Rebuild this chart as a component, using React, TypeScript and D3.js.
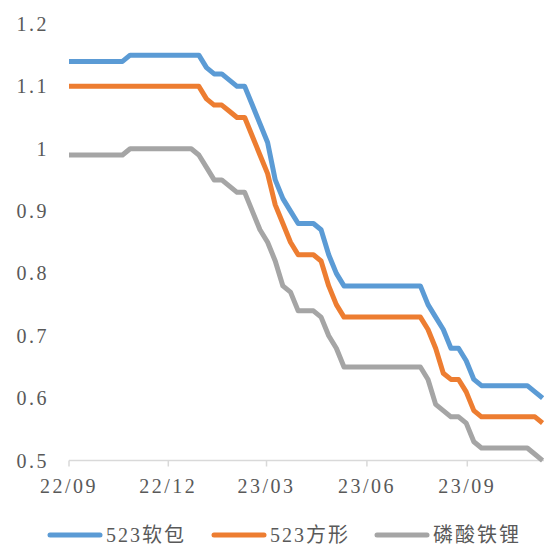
import React, { useEffect } from 'react';
import * as d3 from 'd3';

// weekly observations starting 2022-09-01
const startDate = new Date(2022, 8, 1);

const softPack523 = [
  1.14, 1.14, 1.14, 1.14, 1.14, 1.14, 1.14, 1.14, 1.15, 1.15,
  1.15, 1.15, 1.15, 1.15, 1.15, 1.15, 1.15, 1.15, 1.13, 1.12,
  1.12, 1.11, 1.10, 1.10, 1.07, 1.04, 1.01, 0.95, 0.92, 0.90,
  0.88, 0.88, 0.88, 0.87, 0.83, 0.80, 0.78, 0.78, 0.78, 0.78,
  0.78, 0.78, 0.78, 0.78, 0.78, 0.78, 0.78, 0.75, 0.73, 0.71,
  0.68, 0.68, 0.66, 0.63, 0.62, 0.62, 0.62, 0.62, 0.62, 0.62,
  0.62, 0.61, 0.60,
];

const prismatic523 = [
  1.10, 1.10, 1.10, 1.10, 1.10, 1.10, 1.10, 1.10, 1.10, 1.10,
  1.10, 1.10, 1.10, 1.10, 1.10, 1.10, 1.10, 1.10, 1.08, 1.07,
  1.07, 1.06, 1.05, 1.05, 1.02, 0.99, 0.96, 0.91, 0.88, 0.85,
  0.83, 0.83, 0.83, 0.82, 0.78, 0.75, 0.73, 0.73, 0.73, 0.73,
  0.73, 0.73, 0.73, 0.73, 0.73, 0.73, 0.73, 0.71, 0.68, 0.64,
  0.63, 0.63, 0.61, 0.58, 0.57, 0.57, 0.57, 0.57, 0.57, 0.57,
  0.57, 0.57, 0.56,
];

const lfp = [
  0.99, 0.99, 0.99, 0.99, 0.99, 0.99, 0.99, 0.99, 1.00, 1.00,
  1.00, 1.00, 1.00, 1.00, 1.00, 1.00, 1.00, 0.99, 0.97, 0.95,
  0.95, 0.94, 0.93, 0.93, 0.90, 0.87, 0.85, 0.82, 0.78, 0.77,
  0.74, 0.74, 0.74, 0.73, 0.70, 0.68, 0.65, 0.65, 0.65, 0.65,
  0.65, 0.65, 0.65, 0.65, 0.65, 0.65, 0.65, 0.63, 0.59, 0.58,
  0.57, 0.57, 0.56, 0.53, 0.52, 0.52, 0.52, 0.52, 0.52, 0.52,
  0.52, 0.51, 0.50,
];

const seriesNames = ['523软包', '523方形', '磷酸铁锂'];
const seriesColors = ['#5B9BD5', '#ED7D31', '#A5A5A5'];
const yTicks = [0.5, 0.6, 0.7, 0.8, 0.9, 1, 1.1, 1.2];
const xTickDates = [
  new Date(2022, 8, 1),
  new Date(2022, 11, 1),
  new Date(2023, 2, 1),
  new Date(2023, 5, 1),
  new Date(2023, 8, 1),
];

const W = 544;
const H = 548;
const FONT = '"Liberation Serif", "Noto Sans CJK SC", serif';

const App: React.FC = () => {
  useEffect(() => {
    document.body.style.margin = '0';
  }, []);

  const x = d3
    .scaleTime()
    .domain([new Date(2022, 8, 1), new Date(2023, 8, 1)])
    .range([69, 467.3]);
  const y = d3.scaleLinear().domain([0.5, 1.2]).range([460.5, 24]);

  const dates = softPack523.map((_, i) => d3.timeDay.offset(startDate, i * 7));
  const allSeries = [softPack523, prismatic523, lfp];

  const line = d3
    .line<number>()
    .x((_, i) => x(dates[i]))
    .y((d) => y(d));

  const fmt = d3.timeFormat('%y/%m');
  const legendX = [48, 212, 375];

  return (
    <svg width={W} height={H} style={{ display: 'block', background: '#fff' }}>
      {/* y labels */}
      {yTicks.map((t) => (
        <text
          key={t}
          x={49}
          y={y(t)}
          dy="0.35em"
          textAnchor="end"
          fontFamily={FONT}
          fontSize={20}
          letterSpacing={2.5}
          fill="#595959"
        >
          {String(t)}
        </text>
      ))}

      {/* x axis */}
      <line x1={69} x2={W} y1={460.5} y2={460.5} stroke="#D9D9D9" strokeWidth={1.5} />
      {xTickDates.map((d) => (
        <g key={d.getTime()}>
          <line x1={x(d)} x2={x(d)} y1={460.5} y2={466.5} stroke="#D9D9D9" strokeWidth={1.5} />
          <text
            x={x(d)}
            y={493}
            textAnchor="middle"
            fontFamily={FONT}
            fontSize={20}
            letterSpacing={2.5}
            fill="#595959"
          >
            {fmt(d)}
          </text>
        </g>
      ))}

      {/* series */}
      {allSeries.map((s, k) => (
        <path
          key={k}
          d={line(s) ?? ''}
          fill="none"
          stroke={seriesColors[k]}
          strokeWidth={5}
          strokeLinejoin="round"
        />
      ))}

      {/* legend */}
      {seriesNames.map((name, k) => (
        <g key={name}>
          <line
            x1={legendX[k] + 2}
            x2={legendX[k] + 52}
            y1={535}
            y2={535}
            stroke={seriesColors[k]}
            strokeWidth={5}
            strokeLinecap="round"
          />
          <text
            x={legendX[k] + 58}
            y={542}
            fontFamily={FONT}
            fontSize={20}
            letterSpacing={2}
            fill="#595959"
          >
            {name}
          </text>
        </g>
      ))}
    </svg>
  );
};

export default App;
